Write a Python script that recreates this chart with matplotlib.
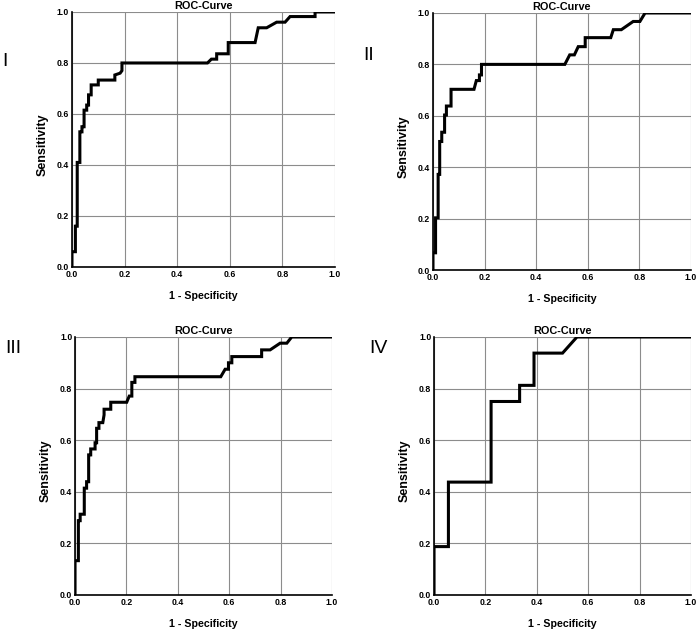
import matplotlib
matplotlib.use("Agg")
import matplotlib.pyplot as plt

plt.rcParams['font.family'] = ['Liberation Sans', 'DejaVu Sans']

# ROC vertices (1 - specificity, sensitivity)
fpr_1 = [0.0, 0.0, 0.013, 0.013, 0.02, 0.02, 0.03, 0.03, 0.038, 0.038, 0.046, 0.046,
         0.056, 0.056, 0.063, 0.063, 0.073, 0.073, 0.10, 0.10, 0.163, 0.163, 0.183, 0.19,
         0.19, 0.515, 0.53, 0.55, 0.55, 0.594, 0.594, 0.696, 0.708, 0.74, 0.778, 0.81,
         0.829, 0.924, 0.924, 1.0]
tpr_1 = [0.0, 0.06, 0.06, 0.16, 0.16, 0.41, 0.41, 0.53, 0.53, 0.55, 0.55, 0.615,
         0.615, 0.635, 0.635, 0.675, 0.675, 0.714, 0.714, 0.733, 0.733, 0.753, 0.76, 0.77,
         0.80, 0.80, 0.815, 0.815, 0.836, 0.836, 0.88, 0.88, 0.938, 0.938, 0.96, 0.96,
         0.982, 0.982, 1.0, 1.0]

fpr_2 = [0.0, 0.0, 0.01, 0.01, 0.02, 0.02, 0.026, 0.026, 0.034, 0.034, 0.045, 0.045,
         0.052, 0.052, 0.07, 0.07, 0.159, 0.168, 0.18, 0.18, 0.188, 0.188, 0.511, 0.53,
         0.548, 0.563, 0.59, 0.59, 0.689, 0.699, 0.73, 0.776, 0.802, 0.822, 1.0]
tpr_2 = [0.0, 0.067, 0.067, 0.203, 0.203, 0.372, 0.372, 0.50, 0.50, 0.536, 0.536, 0.603,
         0.603, 0.638, 0.638, 0.703, 0.703, 0.737, 0.737, 0.759, 0.759, 0.80, 0.80, 0.837,
         0.837, 0.869, 0.869, 0.904, 0.904, 0.935, 0.935, 0.967, 0.967, 1.0, 1.0]

fpr_3 = [0.0, 0.0, 0.013, 0.013, 0.02, 0.02, 0.036, 0.036, 0.045, 0.045, 0.053, 0.053,
         0.061, 0.061, 0.078, 0.078, 0.084, 0.084, 0.093, 0.093, 0.108, 0.113, 0.113,
         0.139, 0.139, 0.201, 0.211, 0.221, 0.221, 0.233, 0.233, 0.567, 0.584, 0.597,
         0.597, 0.61, 0.61, 0.726, 0.726, 0.759, 0.798, 0.824, 0.843, 1.0]
tpr_3 = [0.0, 0.133, 0.133, 0.288, 0.288, 0.313, 0.313, 0.414, 0.414, 0.439, 0.439, 0.543,
         0.543, 0.566, 0.566, 0.59, 0.59, 0.646, 0.646, 0.668, 0.668, 0.698, 0.72,
         0.72, 0.747, 0.747, 0.771, 0.771, 0.824, 0.824, 0.846, 0.846, 0.875, 0.875,
         0.90, 0.90, 0.924, 0.924, 0.95, 0.95, 0.976, 0.976, 1.0, 1.0]

fpr_4 = [0.0, 0.0, 0.056, 0.056, 0.222, 0.222, 0.333, 0.333, 0.389, 0.389, 0.50, 0.556, 1.0]
tpr_4 = [0.0, 0.1875, 0.1875, 0.4375, 0.4375, 0.75, 0.75, 0.8125, 0.8125, 0.9375, 0.9375, 1.0, 1.0]

panel_labels = ["I", "II", "III", "IV"]
ticks = [0.0, 0.2, 0.4, 0.6, 0.8, 1.0]

boxes = [[0.1034, 0.5762, 0.378, 0.4048],
         [0.6221, 0.5714, 0.3707, 0.408],
         [0.1078, 0.0556, 0.3693, 0.4095],
         [0.6236, 0.0556, 0.3693, 0.4095]]
label_pos = [(0.003, 0.895), (0.522, 0.905), (0.008, 0.44), (0.53, 0.44)]

fig = plt.figure(figsize=(6.96, 6.3), dpi=100)

curves = [(fpr_1, tpr_1), (fpr_2, tpr_2), (fpr_3, tpr_3), (fpr_4, tpr_4)]
for i, (fpr, tpr) in enumerate(curves):
    ax = fig.add_axes(boxes[i])
    ax.plot(fpr, tpr, color="black", lw=2.2, solid_joinstyle="miter", zorder=3)
    ax.set_xlim(0, 1)
    ax.set_ylim(0, 1)
    ax.set_xticks(ticks)
    ax.set_yticks(ticks)
    ax.set_xticklabels(["%.1f" % t for t in ticks], fontsize=6.3, fontweight="bold")
    ax.set_yticklabels(["%.1f" % t for t in ticks], fontsize=6.3, fontweight="bold")
    ax.tick_params(length=0, pad=2)
    ax.grid(True, color="#8c8c8c", lw=0.8)
    ax.set_axisbelow(True)
    for side in ["top", "right"]:
        ax.spines[side].set_visible(False)
    for side in ["left", "bottom"]:
        ax.spines[side].set_linewidth(1.2)
        ax.spines[side].set_color("black")
    ax.set_title("ROC-Curve", fontsize=7.8, fontweight="bold", pad=2)
    ax.set_xlabel("1 - Specificity", fontsize=7.7, fontweight="bold", labelpad=9)
    ax.set_ylabel("Sensitivity", fontsize=9, fontweight="bold")
    ax.yaxis.set_label_coords(-0.09, 0.48)
    fig.text(label_pos[i][0], label_pos[i][1], panel_labels[i], fontsize=14)

fig.savefig("out.png", dpi=100)
